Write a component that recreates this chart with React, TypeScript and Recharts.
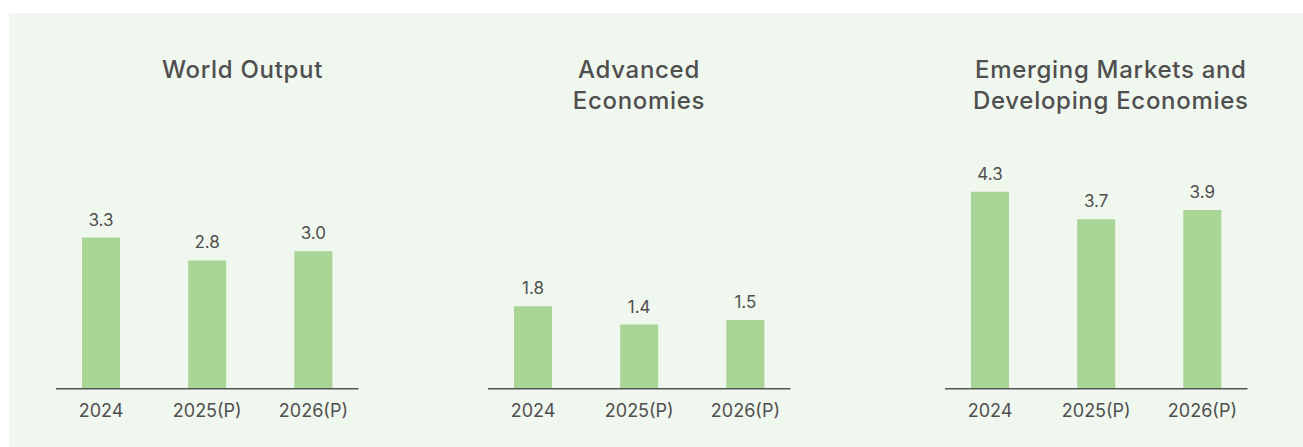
import { BarChart, Bar, XAxis, YAxis, LabelList } from 'recharts';

const CATEGORIES = ['2024', '2025(P)', '2026(P)'];
const WORLD_OUTPUT = [3.3, 2.8, 3.0];
const ADVANCED_ECONOMIES = [1.8, 1.4, 1.5];
const EMERGING_ECONOMIES = [4.3, 3.7, 3.9];
const Y_DOMAIN = [0, 5];

const BAR_COLOR = '#a9d596';
const PANEL_BG = '#f0f7ee';
const TEXT_COLOR = '#4f4f4f';
const FONT = 'Inter, "Open Sans", sans-serif';

// plot geometry shared by the three small charts
const AXIS_WIDTH = 302.5;
const SIDE = 40;
const PLOT_TOP = 159.7;
const AXIS_Y = 388.7;
const CHART_H = 447;

const makeRows = (values: number[]) =>
  CATEGORIES.map((name, i) => ({ name, value: values[i] }));

function YearTick({ x, y, payload }: any) {
  return (
    <text x={x} y={y + 28} textAnchor="middle" fill={TEXT_COLOR} fontSize={18} fontFamily={FONT}>
      {payload.value}
    </text>
  );
}

interface MiniChartProps {
  values: number[];
  axisLeft: number;
}

function MiniChart({ values, axisLeft }: MiniChartProps) {
  return (
    <div style={{ position: 'absolute', left: axisLeft - SIDE, top: 0 }}>
      <BarChart
        width={AXIS_WIDTH + SIDE * 2}
        height={CHART_H}
        data={makeRows(values)}
        margin={{ top: PLOT_TOP, right: SIDE, left: SIDE, bottom: CHART_H - AXIS_Y - 30 }}
      >
        <XAxis
          dataKey="name"
          height={30}
          padding={{ left: -8, right: -8 }}
          tickLine={false}
          tickSize={0}
          tickMargin={0}
          axisLine={{ stroke: '#555555', strokeWidth: 1.5 }}
          tick={<YearTick />}
          interval={0}
        />
        <YAxis hide domain={Y_DOMAIN} />
        <Bar dataKey="value" fill={BAR_COLOR} barSize={38} isAnimationActive={false}>
          <LabelList
            dataKey="value"
            position="top"
            offset={12}
            fill={TEXT_COLOR}
            fontSize={17}
            fontFamily={FONT}
            formatter={(v: any) => Number(v).toFixed(1)}
          />
        </Bar>
      </BarChart>
    </div>
  );
}

function Title({ center, lines }: { center: number; lines: string[] }) {
  return (
    <div
      style={{
        position: 'absolute',
        left: center - 200,
        width: 400,
        top: 54,
        textAlign: 'center',
        fontFamily: FONT,
        fontWeight: 500,
        fontSize: 24,
        letterSpacing: 0.7,
        lineHeight: '31px',
        color: TEXT_COLOR,
      }}
    >
      {lines.map((l) => (
        <div key={l}>{l}</div>
      ))}
    </div>
  );
}

export default function App() {
  return (
    <div style={{ position: 'absolute', left: 0, top: 0, width: 1303, height: 447, background: '#ffffff', overflow: 'hidden' }}>
      <div style={{ position: 'absolute', left: 9, top: 13, width: 1294, height: 434, background: PANEL_BG }} />
      <Title center={242.5} lines={['World Output']} />
      <Title center={639} lines={['Advanced', 'Economies']} />
      <Title center={1110.8} lines={['Emerging Markets and', 'Developing Economies']} />
      <MiniChart values={WORLD_OUTPUT} axisLeft={55.7} />
      <MiniChart values={ADVANCED_ECONOMIES} axisLeft={488.3} />
      <MiniChart values={EMERGING_ECONOMIES} axisLeft={945} />
    </div>
  );
}
